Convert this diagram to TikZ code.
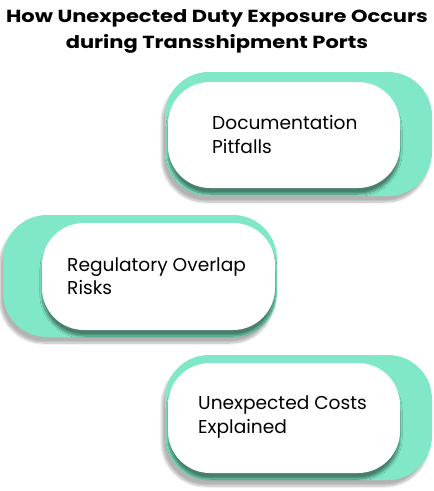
\documentclass[tikz,border=0pt]{standalone}
\usepackage{fontspec}
\setmainfont{Poppins}
\usetikzlibrary{shadows.blur}
\definecolor{mint}{RGB}{128,232,200}
\begin{document}
\begin{tikzpicture}[x=1pt,y=-1pt,
  greenbox/.style={fill=mint, rounded corners=44pt, inner sep=0pt,
    blur shadow={shadow xshift=-3pt, shadow yshift=-6pt, shadow blur steps=12, shadow opacity=30}},
  whitebox/.style={fill=white, rounded corners=42pt, inner sep=0pt,
    blur shadow={shadow xshift=0pt, shadow yshift=-6pt, shadow blur steps=12, shadow opacity=45}},
  label/.style={anchor=west, align=left, font=\fontsize{18.6}{23.5}\selectfont, inner sep=0pt, text=black},
  titletext/.style={align=center, font=\bfseries\fontsize{17.5}{26}\selectfont, inner sep=0pt}]
\useasboundingbox (0,0) rectangle (434,491);
\node[titletext] (title) at (217,31) {\scalebox{1.2}[1]{How Unexpected Duty Exposure Occurs}\\\scalebox{1.2}[1]{during Transshipment Ports}};
% box 1
\node[greenbox, minimum width=267, minimum height=124] (g1) at (298.5,134) {};
\node[whitebox, minimum width=232, minimum height=106] (w1) at (284,135) {};
\node[label] (t1) at (212,134.5) {Documentation\\Pitfalls};
% box 2
\node[greenbox, minimum width=274, minimum height=122] (g2) at (140,276) {};
\node[whitebox, minimum width=233, minimum height=107] (w2) at (158.5,276.5) {};
\node[label] (t2) at (67,276) {Regulatory Overlap\\Risks};
% box 3
\node[greenbox, minimum width=267, minimum height=125] (g3) at (298.5,417.5) {};
\node[whitebox, minimum width=232, minimum height=110] (w3) at (284,418) {};
\node[label] (t3) at (198,417) {Unexpected Costs\\Explained};
\end{tikzpicture}
\end{document}
